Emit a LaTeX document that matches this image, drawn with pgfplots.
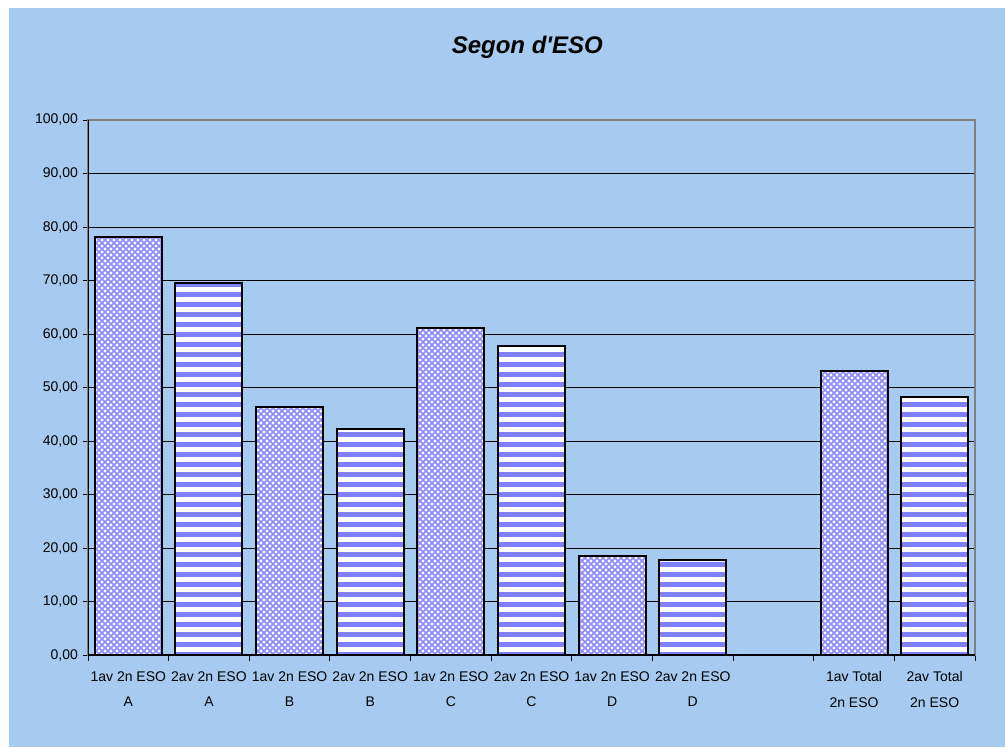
\documentclass[border=0pt]{standalone}
\usepackage{pgfplots}
\pgfplotsset{compat=1.18}
\usepackage{fontspec}
\setmainfont{Liberation Sans}
\newfontfamily\plainfont{Liberation Sans}
\usetikzlibrary{patterns}
\definecolor{bgblue}{RGB}{166,202,240}
\definecolor{barblue}{RGB}{128,128,255}
\definecolor{hatchblue}{RGB}{140,140,255}
\definecolor{gridgray}{RGB}{128,128,128}

\pgfdeclarepatternformonly{hstripes}{\pgfqpoint{-1pt}{0pt}}{\pgfqpoint{11pt}{7.5pt}}{\pgfqpoint{10pt}{7.5pt}}{%
  \pgfpathrectangle{\pgfqpoint{-1pt}{0pt}}{\pgfqpoint{12pt}{3.75pt}}\pgfusepath{fill}}
\pgfdeclarepatternformonly{xhatch}{\pgfqpoint{-1pt}{-1pt}}{\pgfqpoint{5.5pt}{5.5pt}}{\pgfqpoint{4.5pt}{4.5pt}}{%
  \pgfsetlinewidth{1.2pt}%
  \pgfpathmoveto{\pgfqpoint{-0.5pt}{-0.5pt}}\pgfpathlineto{\pgfqpoint{5pt}{5pt}}%
  \pgfpathmoveto{\pgfqpoint{-0.5pt}{5pt}}\pgfpathlineto{\pgfqpoint{5pt}{-0.5pt}}%
  \pgfusepath{stroke}}

\begin{document}
\begin{tikzpicture}
\fill[white] (0pt,0pt) rectangle (753.75pt,-560.25pt);
\fill[bgblue] (6.75pt,-6pt) rectangle (753.75pt,-560.25pt);
\node[font=\fontsize{18}{20}\plainfont\bfseries\itshape] at (395.5pt,-35.25pt) {Segon d'ESO};
\begin{axis}[
  at={(66pt,-491.25pt)}, anchor=south west,
  width=665.25pt, height=401.25pt, scale only axis,
  xmin=-0.5, xmax=10.5, ymin=0, ymax=100,
  xtick={0,...,10},
  xticklabels={{1av 2n ESO\\A},{2av 2n ESO\\A},{1av 2n ESO\\B},{2av 2n ESO\\B},{1av 2n ESO\\C},{2av 2n ESO\\C},{1av 2n ESO\\D},{2av 2n ESO\\D},{},{1av Total\\2n ESO},{2av Total\\2n ESO}},
  major x tick style={draw=none},
  minor xtick={-0.5,0.5,...,10.5},
  ytick={0,10,...,100},
  ymajorgrids, grid style={black, line width=0.75pt},
  tick align=outside, tick pos=left,
  major tick length=4pt, minor tick length=4.5pt,
  tick style={black, line width=0.75pt},
  axis line style={gridgray, line width=1.5pt},
  axis background/.style={fill=bgblue},
  xticklabel style={align=center, font=\fontsize{10.5}{19}\selectfont, yshift=-5pt},
  yticklabel style={font=\fontsize{10.5}{12}\selectfont},
  /pgf/number format/.cd, fixed, fixed zerofill, precision=2, use comma, assume math mode=true,
]
\addplot[ybar, bar width=50.25pt, bar shift=0pt, draw=black, line width=1.5pt,
  preaction={fill=white},
  pattern=xhatch, pattern color=hatchblue]
  coordinates {(0,78.2) (2,46.3) (4,61.2) (6,18.5) (9,53.0)};
\addplot[ybar, bar width=50.25pt, bar shift=0pt, draw=black, line width=1.5pt,
  preaction={fill=white},
  pattern=hstripes, pattern color=barblue]
  coordinates {(1,69.6) (3,42.3) (5,57.7) (7,17.7) (10,48.2)};
\draw[gridgray, line width=1.5pt] (rel axis cs:0,1) -- (rel axis cs:1,1) -- (rel axis cs:1,0);
\draw[black, line width=1pt] (rel axis cs:0,1) -- (rel axis cs:0,0) -- (rel axis cs:1,0);
\end{axis}
\end{tikzpicture}
\end{document}
